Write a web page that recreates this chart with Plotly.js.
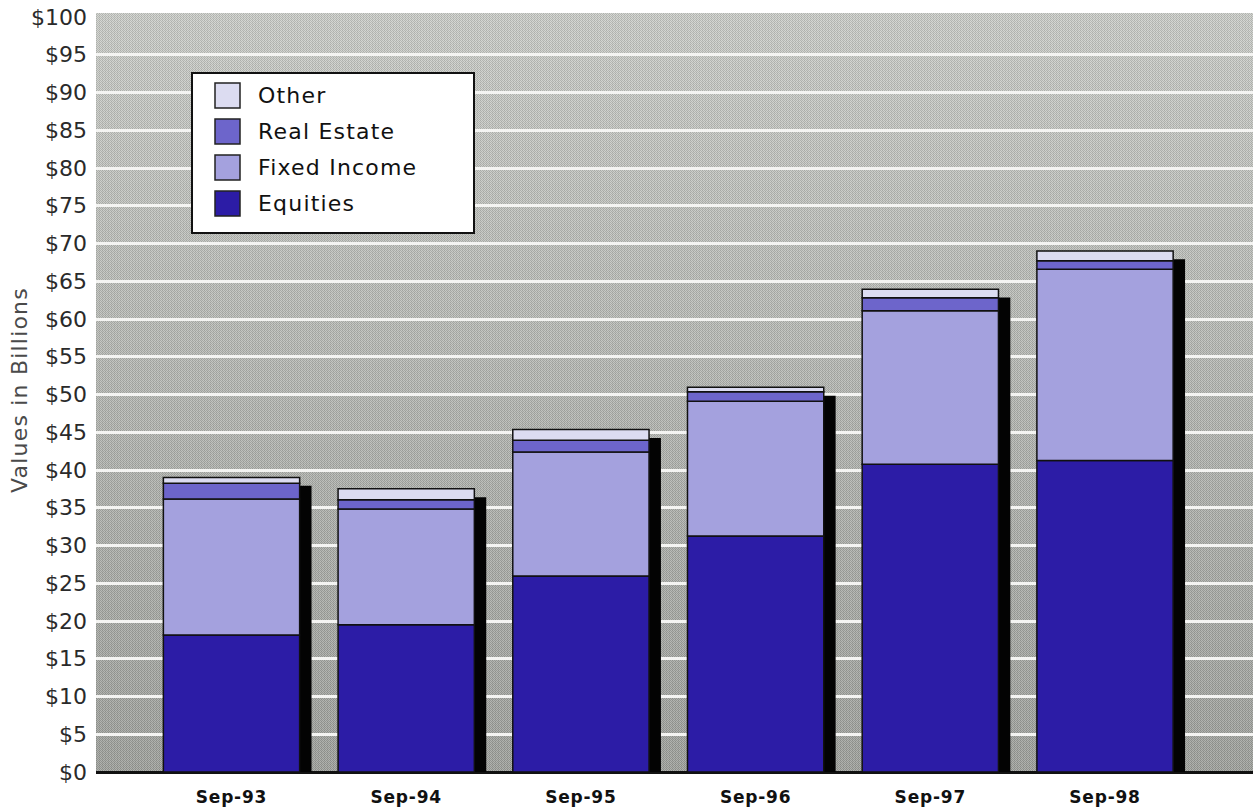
<!DOCTYPE html>
<html>
<head>
<meta charset="utf-8">
<script src="https://cdn.plot.ly/plotly-3.0.1.min.js"></script>
<style>
  html, body { margin: 0; padding: 0; background: #ffffff; }
  #chart { width: 1253px; height: 810px; }
  .annotation-text { letter-spacing: 1.2px; }
  .xtick text { letter-spacing: 0.8px; }
</style>
</head>
<body>
<div id="chart"></div>
<script>
// Asset values by fiscal year end, in billions of dollars
const periods = ['Sep-93', 'Sep-94', 'Sep-95', 'Sep-96', 'Sep-97', 'Sep-98'];
const equities = [18.15, 19.5, 25.95, 31.25, 40.75, 41.25];
const fixedIncome = [18.0, 15.35, 16.45, 17.85, 20.35, 25.35];
const realEstate = [2.1, 1.2, 1.55, 1.25, 1.7, 1.1];
const other = [0.75, 1.45, 1.4, 0.6, 1.15, 1.3];

const yTickVals = [0, 5, 10, 15, 20, 25, 30, 35, 40, 45, 50, 55, 60, 65, 70, 75, 80, 85, 90, 95, 100];
const yTickText = yTickVals.map(v => '$' + v);

const seriesNames = ['Equities', 'Fixed Income', 'Real Estate', 'Other'];
const seriesColors = ['#2c1ca6', '#a4a1de', '#6d65cb', '#dcdcf1'];
const seriesValues = [equities, fixedIncome, realEstate, other];

// plot area in pixels
const W = 1253, H = 810;
const L = 96, R = 0, T = 17, B = 38;
const plotW = W - L - R, plotH = H - T - B;
const px = X => (X - L) / plotW;
const py = Y => (H - B - Y) / plotH;

const xPos = periods.map((_, i) => i);
const barWidth = 0.78;
const shadowWidth = 0.068;
const shadowDrop = 1.1; // drop of the shadow top below the bar top, in $B

// stacked bases
const bases = [];
let running = periods.map(() => 0);
seriesValues.forEach(vals => {
  bases.push(running.slice());
  running = running.map((r, i) => r + vals[i]);
});
const totals = running;

const traces = [];
// drop shadow at the right side of each stack
traces.push({
  type: 'bar',
  x: xPos,
  y: totals.map(t => t - shadowDrop),
  base: 0,
  width: shadowWidth,
  offset: barWidth / 2,
  marker: { color: '#030303', line: { width: 0 } },
  showlegend: false,
  hoverinfo: 'skip'
});
seriesValues.forEach((vals, k) => {
  traces.push({
    type: 'bar',
    name: seriesNames[k],
    x: xPos,
    y: vals,
    base: bases[k],
    width: barWidth,
    marker: { color: seriesColors[k], line: { color: '#111111', width: 1.5 } },
    showlegend: false
  });
});

// textured grey backdrop, darker toward the baseline
function backdrop() {
  const c = document.createElement('canvas');
  c.width = plotW; c.height = plotH + 4;
  const ctx = c.getContext('2d');
  const img = ctx.createImageData(c.width, c.height);
  for (let y = 0; y < c.height; y++) {
    const t = y / c.height;
    const base = 198 - 38 * t;
    for (let x = 0; x < c.width; x++) {
      const d = ((x + y) % 2 === 0) ? 16 : -16;
      const s = (x % 3 === 0) ? -8 : 0;
      const v = base + d + s;
      const i = (y * c.width + x) * 4;
      img.data[i] = v; img.data[i + 1] = v + 2; img.data[i + 2] = v - 2; img.data[i + 3] = 255;
    }
  }
  ctx.putImageData(img, 0, 0);
  return c.toDataURL('image/png');
}

// legend box drawn as shapes and text
const legendOrder = [3, 2, 1, 0];
const rowCentres = [95.5, 131.5, 167.5, 203.5];
const shapes = [{
  type: 'rect', xref: 'paper', yref: 'paper',
  x0: px(192), x1: px(474), y0: py(233), y1: py(73),
  fillcolor: '#ffffff', line: { color: '#111111', width: 2 }
}];
const annotations = [];
legendOrder.forEach((k, r) => {
  const yc = rowCentres[r];
  shapes.push({
    type: 'rect', xref: 'paper', yref: 'paper',
    x0: px(215), x1: px(240), y0: py(yc + 12.5), y1: py(yc - 12.5),
    fillcolor: seriesColors[k], line: { color: '#222222', width: 1.5 }
  });
  annotations.push({
    xref: 'paper', yref: 'paper', x: px(256), y: py(yc),
    xanchor: 'left', yanchor: 'middle', showarrow: false,
    text: seriesNames[k],
    font: { family: 'DejaVu Sans', size: 22, color: '#111111' }
  });
});
// y axis title
annotations.push({
  xref: 'paper', yref: 'paper', x: px(19), y: py(390),
  xanchor: 'center', yanchor: 'middle', showarrow: false, textangle: -90,
  text: 'Values in Billions',
  font: { family: 'DejaVu Sans', size: 22, color: '#4a4a4a' }
});

const layout = {
  width: W, height: H,
  margin: { l: L, r: R, t: T, b: B, pad: 0 },
  paper_bgcolor: '#ffffff',
  plot_bgcolor: 'rgba(0,0,0,0)',
  barmode: 'overlay',
  showlegend: false,
  xaxis: {
    range: [-0.7756, 5.847],
    tickvals: xPos, ticktext: periods,
    showgrid: false, zeroline: false, showline: false, ticks: '',
    ticklabelstandoff: 13,
    tickfont: { family: 'DejaVu Sans', size: 17, color: '#111111', weight: 'bold' },
    fixedrange: true
  },
  yaxis: {
    range: [0, 100],
    tickvals: yTickVals, ticktext: yTickText,
    showgrid: true, gridcolor: '#f4f4f2', gridwidth: 3,
    zeroline: true, zerolinecolor: '#111111', zerolinewidth: 3,
    showline: false, ticks: '',
    ticklabelstandoff: 8,
    tickfont: { family: 'DejaVu Sans', size: 22, color: '#2a2a2a' },
    fixedrange: true
  },
  images: [{
    source: backdrop(), xref: 'paper', yref: 'paper',
    x: 0, y: 1 + 4 / plotH, sizex: 1, sizey: 1 + 4 / plotH,
    xanchor: 'left', yanchor: 'top', sizing: 'stretch', layer: 'below'
  }],
  shapes: shapes,
  annotations: annotations
};

Plotly.newPlot('chart', traces, layout, { staticPlot: true, displayModeBar: false });
</script>
</body>
</html>
